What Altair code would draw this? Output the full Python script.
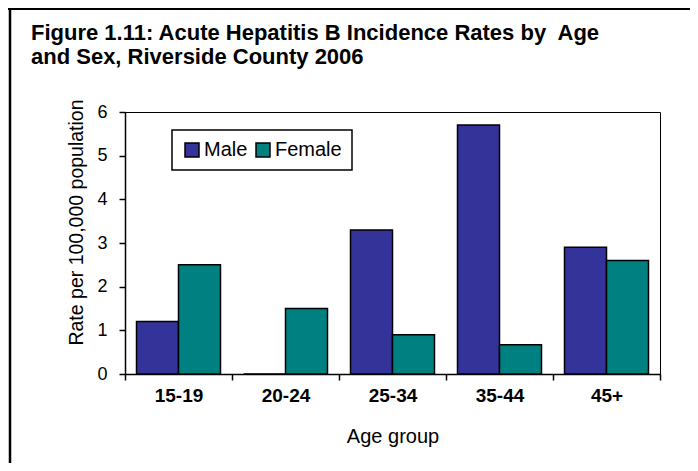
import altair as alt
import pandas as pd

ages = ["15-19", "20-24", "25-34", "35-44", "45+"]
male = [1.2, 0.0, 3.3, 5.7, 2.9]
female = [2.5, 1.5, 0.9, 0.67, 2.6]
sexes = ["Male", "Female"]
colors = ["#333399", "#008080"]
y_ticks = [0, 1, 2, 3, 4, 5, 6]

rows = []
for a, m, f in zip(ages, male, female):
    rows.append({"age": a, "sex": "Male", "rate": m})
    rows.append({"age": a, "sex": "Female", "rate": f})
df = pd.DataFrame(rows)

FONT = "Liberation Sans"

bars = alt.Chart(df).mark_bar(stroke="black", strokeWidth=1.5).encode(
    x=alt.X(
        "age:N",
        sort=ages,
        scale=alt.Scale(paddingInner=0, paddingOuter=0),
        axis=alt.Axis(
            title="Age group",
            tickBand="extent",
            labelAngle=0,
            labelFontWeight="bold",
            labelFontSize=19,
            labelPadding=6,
            tickSize=6,
            titleFontSize=20,
            titleFontWeight="normal",
            titlePadding=21,
        ),
    ),
    xOffset=alt.XOffset(
        "sex:N", sort=sexes, scale=alt.Scale(paddingInner=0, paddingOuter=0.274)
    ),
    y=alt.Y(
        "rate:Q",
        scale=alt.Scale(domain=[0, 6], nice=False),
        axis=alt.Axis(
            title="Rate per 100,000 population",
            values=y_ticks,
            grid=False,
            labelFontSize=18,
            labelPadding=12,
            tickSize=6,
            titleFontSize=19.5,
            titleFontWeight="normal",
            titlePadding=10,
            titleY=110,
        ),
    ),
    color=alt.Color(
        "sex:N",
        sort=sexes,
        scale=alt.Scale(domain=sexes, range=colors),
        legend=alt.Legend(
            title=None,
            orient="none",
            legendX=47,
            legendY=18,
            direction="horizontal",
            strokeColor="black",
            padding=10,
            symbolType="square",
            symbolSize=196,
            symbolStrokeColor="black",
            symbolStrokeWidth=1.5,
            symbolOpacity=1,
            labelFontSize=20,
            labelColor="black",
            columnPadding=5,
            labelOffset=2,
        ),
    ),
)

frame_data = alt.Data(values=[{"k": 1}])
top_line = alt.Chart(frame_data).mark_rule(color="black", strokeWidth=2).encode(
    x=alt.value(-117), x2=alt.value(600), y=alt.value(-103)
)
left_line = alt.Chart(frame_data).mark_rule(color="black", strokeWidth=2.5).encode(
    x=alt.value(-115), y=alt.value(-104), y2=alt.value(400)
)

chart = (
    alt.layer(bars, top_line, left_line)
    .properties(
        width=535,
        height=262,
        autosize=alt.AutoSizeParams(type="none"),
        padding={"left": 117, "top": 104, "right": 30, "bottom": 89},
        title=alt.TitleParams(
            text=[
                "Figure 1.11: Acute Hepatitis B Incidence Rates by\u00a0 Age",
                "and Sex, Riverside County 2006",
            ],
            anchor="start",
            frame="group",
            fontSize=22,
            fontWeight="bold",
            font=FONT,
            color="black",
            lineHeight=24,
            dx=-94,
            offset=0,
            dy=62,
        ),
    )
    .configure(font=FONT, background="white")
    .configure_view(stroke="black", strokeWidth=1)
    .configure_axis(
        domainColor="black",
        domainWidth=1.5,
        tickColor="black",
        tickWidth=1.5,
        labelColor="black",
        titleColor="black",
        labelFont=FONT,
        titleFont=FONT,
    )
    .configure_legend(labelFont=FONT, strokeWidth=1.5)
)

chart.save("out.html", embed_options={"renderer": "svg", "actions": False})
